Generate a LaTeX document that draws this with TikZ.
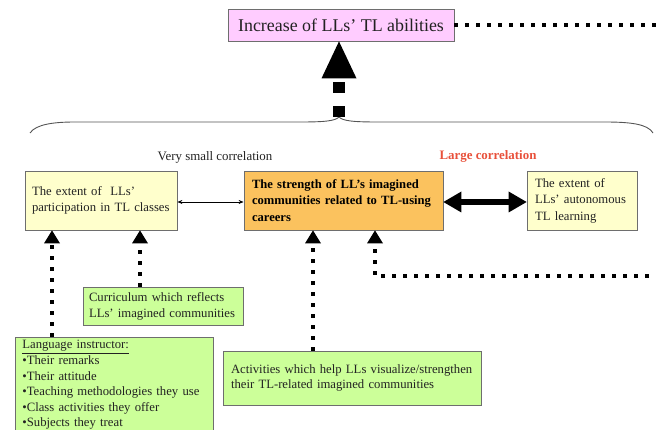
\documentclass[tikz,border=0pt]{standalone}
\usepackage{fontspec}
\setmainfont{Liberation Serif}
\usetikzlibrary{arrows.meta}
\definecolor{pinkfill}{HTML}{FFCCFF}
\definecolor{yellowfill}{HTML}{FFFFCC}
\definecolor{orangefill}{HTML}{FBC25E}
\definecolor{greenfill}{HTML}{CCFF99}
\definecolor{bordergray}{HTML}{6E6E6E}
\definecolor{txtgray}{HTML}{222222}
\definecolor{largered}{HTML}{E8503A}
\definecolor{bracegray}{HTML}{555555}
\begin{document}
\begin{tikzpicture}[x=1pt,y=-1pt,
  box/.style={draw=bordergray, line width=0.8pt, inner ysep=2pt, align=left,
    text=txtgray, font=\fontsize{12.7}{15.6}\selectfont},
  dotline/.style={line width=4pt, dash pattern=on 4pt off 7pt},
  dotarrow/.style={dotline, -{Triangle[length=13pt,width=16pt,line width=0pt]}},
  lbl/.style={font=\fontsize{12.9}{14}\selectfont, inner sep=0pt}
]
\useasboundingbox (0,0) rectangle (656,430);

% boxes
\node[box, fill=pinkfill, minimum width=226pt, minimum height=32pt, align=center,
  font=\fontsize{17.9}{20}\selectfont] (pink) at (341,25) {Increase of LLs’ TL abilities};

\node[box, fill=yellowfill, inner xsep=7pt, text width=138pt, minimum height=59pt]
  (left) at (101,200.5) {The extent of\ \ LLs’\\participation in TL classes};

\node[box, fill=orangefill, inner xsep=8pt, text width=183pt, minimum height=59pt,
  font=\fontsize{12.6}{16.5}\selectfont\bfseries, text=black]
  (orange) at (343.5,200.5) {The strength of LL’s imagined\\communities related to TL-using\\careers};

\node[box, fill=yellowfill, inner xsep=8pt, text width=94pt, minimum height=59pt,
  font=\fontsize{12.7}{16.5}\selectfont]
  (right) at (582,200.5) {The extent of\\LLs’ autonomous\\TL learning};

\node[box, fill=greenfill, inner xsep=6pt, text width=148pt, minimum height=38pt,
  font=\fontsize{12.7}{16}\selectfont]
  (curr) at (163,306) {Curriculum which reflects\\LLs’ imagined communities};

\node[box, fill=greenfill, inner xsep=8pt, text width=242pt, minimum height=54pt]
  (act) at (352,378) {Activities which help LLs visualize/strengthen\\their TL-related imagined communities};

\node[box, fill=greenfill, inner xsep=7pt, inner ysep=3pt, text width=184pt,
  anchor=north west] (instr) at (15,337)
  {\underline{Language instructor:}\\•Their remarks\\•Their attitude\\•Teaching methodologies they use\\•Class activities they offer\\•Subjects they treat\\};

% labels
\node[lbl, text=txtgray] (vsc) at (215,157) {Very small correlation};
\node[lbl, text=largered, font=\fontsize{12.9}{14}\selectfont\bfseries] (lc) at (488,156) {Large correlation};

% brace
\coordinate (btip) at (339,117);
\coordinate (bl) at (30,133);
\coordinate (br) at (653,133);
\draw[bracegray, line width=0.9pt]
  (bl) .. controls (36,124) and (55,122) .. (75,122) -- (300,122)
  .. controls (325,122) and (335,121) .. (btip)
  .. controls (343,121) and (353,122) .. (378,122) -- (605,122)
  .. controls (630,122) and (648,124) .. (br);

% main up arrow
\draw[line width=12pt, dash pattern=on 11pt off 13pt,
  -{Triangle[length=37pt,width=35pt,line width=0pt]}] (btip) -- (pink.south -| btip);

% top dotted line
\coordinate (e1) at (660,25);
\draw[dotline] (pink.east) -- (e1);

% correlation arrows
\draw[line width=0.7pt, {Stealth[length=5pt,width=4pt]}-{Stealth[length=5pt,width=4pt]}]
  (left.east |- 0,202) coordinate (le) -- (orange.west |- le);
\draw[line width=6pt, {Triangle[length=18pt,width=21pt,line width=0pt]}-{Triangle[length=18pt,width=21pt,line width=0pt]}]
  (orange.east |- le) -- (right.west |- le);

% dotted influence arrows
\coordinate (xa1) at (52,0);
\coordinate (xa2) at (140,0);
\coordinate (xa3) at (313,0);
\coordinate (xa4) at (375,0);
\coordinate (e4) at (660,276);
\draw[dotarrow] (instr.north -| xa1) -- (left.south -| xa1);
\draw[dotarrow] (curr.north -| xa2) -- (left.south -| xa2);
\draw[dotarrow] (act.north -| xa3) -- (orange.south -| xa3);
\draw[dotarrow] (e4) -- (e4 -| xa4) -- (orange.south -| xa4);
\end{tikzpicture}
\end{document}
